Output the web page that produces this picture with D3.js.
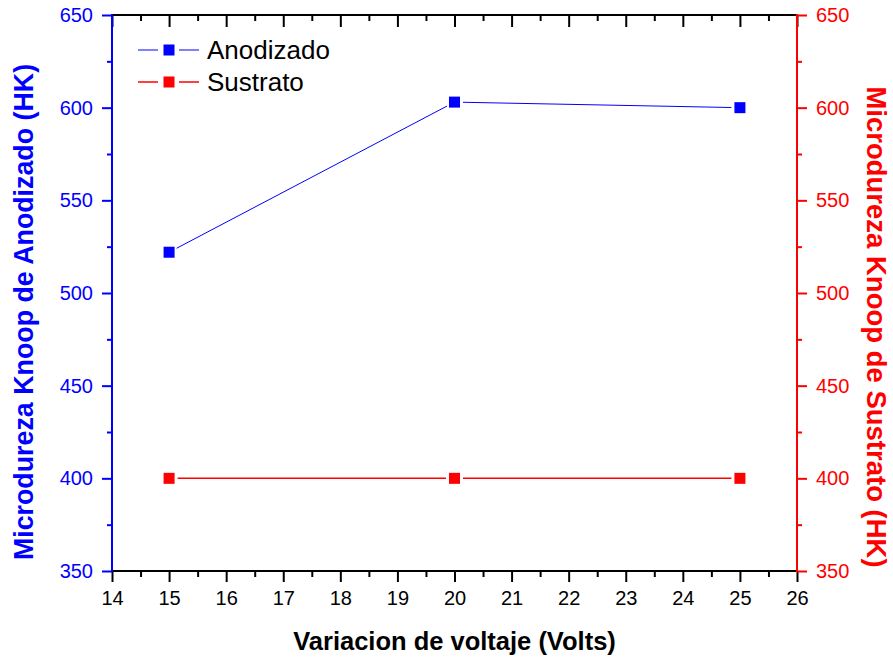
<!DOCTYPE html>
<html>
<head>
<meta charset="utf-8">
<script src="https://cdn.jsdelivr.net/npm/d3@7"></script>
<style>
  html, body { margin: 0; padding: 0; background: #fff; }
  svg { display: block; font-family: "Liberation Sans", Arial, sans-serif; }
</style>
</head>
<body>
<svg id="chart" width="893" height="658"></svg>
<script>
// Voltage values (x) and hardness series
const voltages = [15, 20, 25];
const anodizado = [522, 603, 600];
const sustrato = [400, 400, 400];

const xTicks = [14, 15, 16, 17, 18, 19, 20, 21, 22, 23, 24, 25, 26];
const xMinor = [14.5, 15.5, 16.5, 17.5, 18.5, 19.5, 20.5, 21.5, 22.5, 23.5, 24.5, 25.5];
const yTicks = [350, 400, 450, 500, 550, 600, 650];
const yMinor = [375, 425, 475, 525, 575, 625];

const seriesNames = ["Anodizado", "Sustrato"];
const xTitle = "Variacion de voltaje (Volts)";
const yLeftTitle = "Microdureza Knoop de Anodizado (HK)";
const yRightTitle = "Microdureza Knoop de Sustrato (HK)";

const BLUE = "#0000ff", RED = "#ff0000";
const plotLeft = 112, plotRight = 797, plotTop = 15, plotBottom = 571;
const TICK_FONT = "20px";

const svg = d3.select("#chart");
const x = d3.scaleLinear().domain([14, 26]).range([plotLeft, plotRight]);
const yL = d3.scaleLinear().domain([350, 650]).range([plotBottom, plotTop]);
const yR = d3.scaleLinear().domain([350, 650]).range([plotBottom, plotTop]);

function styleAxis(g, color) {
  g.select(".domain").remove();
  g.selectAll(".tick line").attr("stroke", color).attr("stroke-width", 2);
  g.selectAll(".tick text").attr("fill", color).attr("font-size", TICK_FONT)
    .attr("font-family", "'Liberation Sans', Arial, sans-serif");
}

// Bottom axis (outward ticks)
const gb = svg.append("g").attr("transform", `translate(0,${plotBottom})`)
  .call(d3.axisBottom(x).tickValues(xTicks).tickFormat(d3.format("d")).tickSize(11).tickPadding(9));
styleAxis(gb, "#000");
const gbm = svg.append("g").attr("transform", `translate(0,${plotBottom})`)
  .call(d3.axisBottom(x).tickValues(xMinor).tickFormat("").tickSize(6));
styleAxis(gbm, "#000");

// Top axis (inward ticks)
const gt = svg.append("g").attr("transform", `translate(0,${plotTop})`)
  .call(d3.axisTop(x).tickValues(xTicks).tickFormat("").tickSize(-12));
styleAxis(gt, "#000");
const gtm = svg.append("g").attr("transform", `translate(0,${plotTop})`)
  .call(d3.axisTop(x).tickValues(xMinor).tickFormat("").tickSize(-6));
styleAxis(gtm, "#000");

// Left axis (blue)
const gl = svg.append("g").attr("transform", `translate(${plotLeft},0)`)
  .call(d3.axisLeft(yL).tickValues(yTicks).tickFormat(d3.format("d")).tickSize(10).tickPadding(9));
styleAxis(gl, BLUE);
const glm = svg.append("g").attr("transform", `translate(${plotLeft},0)`)
  .call(d3.axisLeft(yL).tickValues(yMinor).tickFormat("").tickSize(5));
styleAxis(glm, BLUE);

// Right axis (red)
const gr = svg.append("g").attr("transform", `translate(${plotRight},0)`)
  .call(d3.axisRight(yR).tickValues(yTicks).tickFormat(d3.format("d")).tickSize(10).tickPadding(9));
styleAxis(gr, RED);
const grm = svg.append("g").attr("transform", `translate(${plotRight},0)`)
  .call(d3.axisRight(yR).tickValues(yMinor).tickFormat("").tickSize(5));
styleAxis(grm, RED);

// Frame lines
svg.append("line").attr("x1", plotLeft - 1).attr("x2", plotRight + 1).attr("y1", plotTop).attr("y2", plotTop)
  .attr("stroke", "#000").attr("stroke-width", 2);
svg.append("line").attr("x1", plotLeft - 1).attr("x2", plotRight + 1).attr("y1", plotBottom).attr("y2", plotBottom)
  .attr("stroke", "#000").attr("stroke-width", 2);
svg.append("line").attr("x1", plotLeft).attr("x2", plotLeft).attr("y1", plotTop - 1).attr("y2", plotBottom + 1)
  .attr("stroke", BLUE).attr("stroke-width", 2);
svg.append("line").attr("x1", plotRight).attr("x2", plotRight).attr("y1", plotTop - 1).attr("y2", plotBottom + 1)
  .attr("stroke", RED).attr("stroke-width", 2);

// Series: segments with a small gap around each marker, square markers
const MS = 11, GAP = MS / 2 + 3;
function drawSeries(values, yScale, color, lw) {
  const pts = voltages.map((v, i) => [x(v), yScale(values[i])]);
  const g = svg.append("g");
  for (let i = 0; i < pts.length - 1; i++) {
    const [x0, y0] = pts[i], [x1, y1] = pts[i + 1];
    const len = Math.hypot(x1 - x0, y1 - y0);
    const ux = (x1 - x0) / len, uy = (y1 - y0) / len;
    g.append("line")
      .attr("x1", x0 + ux * GAP).attr("y1", y0 + uy * GAP)
      .attr("x2", x1 - ux * GAP).attr("y2", y1 - uy * GAP)
      .attr("stroke", color).attr("stroke-width", lw);
  }
  g.selectAll("rect").data(pts).join("rect")
    .attr("x", d => d[0] - MS / 2).attr("y", d => d[1] - MS / 2)
    .attr("width", MS).attr("height", MS).attr("fill", color);
}
drawSeries(anodizado, yL, BLUE, 1);
drawSeries(sustrato, yR, RED, 1.5);

// Legend
const legend = [
  { name: seriesNames[0], color: BLUE, lw: 1, y: 50 },
  { name: seriesNames[1], color: RED, lw: 1.5, y: 82 }
];
legend.forEach(l => {
  svg.append("line").attr("x1", 138).attr("x2", 158).attr("y1", l.y).attr("y2", l.y)
    .attr("stroke", l.color).attr("stroke-width", l.lw);
  svg.append("line").attr("x1", 179).attr("x2", 199).attr("y1", l.y).attr("y2", l.y)
    .attr("stroke", l.color).attr("stroke-width", l.lw);
  svg.append("rect").attr("x", 169 - MS / 2).attr("y", l.y - MS / 2)
    .attr("width", MS).attr("height", MS).attr("fill", l.color);
  svg.append("text").attr("x", 207).attr("y", l.y).attr("dy", "0.36em")
    .attr("font-size", "26px").attr("fill", "#000").text(l.name);
});

// Axis titles
svg.append("text").attr("x", (plotLeft + plotRight) / 2).attr("y", 650)
  .attr("text-anchor", "middle").attr("font-weight", "bold").attr("font-size", "25.5px")
  .attr("fill", "#000").text(xTitle);
svg.append("text").attr("transform", "translate(33,312) rotate(-90)")
  .attr("text-anchor", "middle").attr("font-weight", "bold").attr("font-size", "26.8px")
  .attr("fill", BLUE).text(yLeftTitle);
svg.append("text").attr("transform", "translate(867,327) rotate(90)")
  .attr("text-anchor", "middle").attr("font-weight", "bold").attr("font-size", "27.5px")
  .attr("fill", RED).text(yRightTitle);
</script>
</body>
</html>
